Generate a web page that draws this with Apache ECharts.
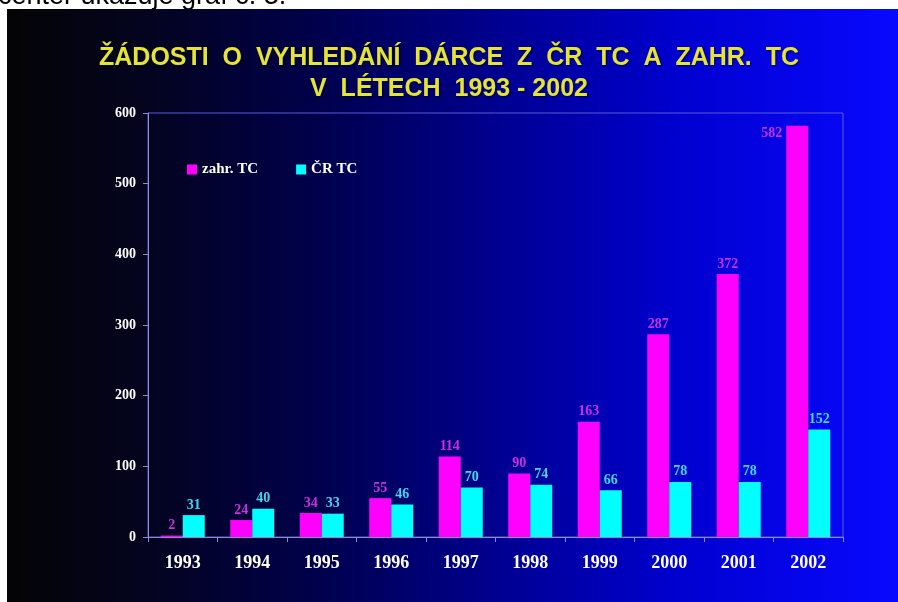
<!DOCTYPE html>
<html>
<head>
<meta charset="utf-8">
<script src="https://cdn.jsdelivr.net/npm/echarts@6/dist/echarts.min.js"></script>
<style>
html,body{margin:0;padding:0;background:#fff;}
#c{width:898px;height:602px;}
</style>
</head>
<body>
<div id="c"></div>
<script>
const years = ['1993','1994','1995','1996','1997','1998','1999','2000','2001','2002'];
const zahrTC = [2, 24, 34, 55, 114, 90, 163, 287, 372, 582];
const crTC = [31, 40, 33, 46, 70, 74, 66, 78, 78, 152];
const seriesNames = ['zahr. TC', 'ČR TC'];
const titleLines = ['ŽÁDOSTI  O  VYHLEDÁNÍ  DÁRCE  Z  ČR  TC  A  ZAHR.  TC', 'V  LÉTECH  1993 - 2002'];
const yTicks = [0, 100, 200, 300, 400, 500, 600];

const chart = echarts.init(document.getElementById('c'), null, {renderer: 'canvas'});
const serif = '"Liberation Serif", "DejaVu Serif", serif';

const magentaData = zahrTC.map(v => v > 550
  ? {value: v, label: {position: [-4, 1], align: 'right', verticalAlign: 'top'}}
  : v);

chart.setOption({
  animation: false,
  backgroundColor: '#ffffff',
  graphic: [
    {
      type: 'rect', z: -10, silent: true,
      shape: {x: 7, y: 9, width: 891, height: 593},
      style: {
        fill: new echarts.graphic.LinearGradient(0, 0, 1, 0, [
          {offset: 0, color: '#040406'},
          {offset: 0.15, color: '#04041e'},
          {offset: 0.35, color: '#00004c'},
          {offset: 0.55, color: '#000090'},
          {offset: 0.75, color: '#0000cf'},
          {offset: 1, color: '#0808ff'}
        ])
      }
    },
    {
      type: 'text', left: -2, top: -17, z: -20, silent: true,
      style: {text: 'center ukazuje graf č. 3.', fill: '#000', font: '27px "Liberation Sans", Arial, sans-serif'}
    }
  ],
  title: {
    text: titleLines.join('\n'),
    left: 'center',
    top: 38,
    textStyle: {
      color: '#e4e436',
      fontFamily: '"Liberation Sans", Arial, sans-serif',
      fontWeight: 'bold',
      fontSize: 25,
      lineHeight: 31,
      textShadowColor: 'rgba(0,0,0,0.6)',
      textShadowBlur: 2,
      textShadowOffsetX: 1,
      textShadowOffsetY: 1
    }
  },
  legend: {
    data: seriesNames,
    left: 182,
    top: 157,
    icon: 'rect',
    itemWidth: 10,
    itemHeight: 10,
    itemGap: 38,
    textStyle: {color: '#ffffff', fontFamily: serif, fontWeight: 'bold', fontSize: 15}
  },
  grid: {
    left: 148, right: 55, top: 113, bottom: 65,
    show: true, borderColor: '#5a5ad8', borderWidth: 1,
    containLabel: false
  },
  xAxis: {
    type: 'category',
    data: years,
    axisLine: {lineStyle: {color: '#8c8cc8', width: 1}},
    axisTick: {show: true, length: 5, lineStyle: {color: '#8c8cc8'}},
    axisLabel: {color: '#ffffff', fontFamily: serif, fontWeight: 'bold', fontSize: 18, margin: 17}
  },
  yAxis: {
    type: 'value',
    min: yTicks[0],
    max: yTicks[yTicks.length - 1],
    interval: 100,
    axisLine: {show: true, lineStyle: {color: '#8c8cc8', width: 1}},
    axisTick: {show: true, length: 5, lineStyle: {color: '#8c8cc8'}},
    splitLine: {show: false},
    axisLabel: {color: '#ffffff', fontFamily: serif, fontWeight: 'bold', fontSize: 14, margin: 12}
  },
  series: [
    {
      name: seriesNames[0],
      type: 'bar',
      data: magentaData,
      barWidth: 22,
      barGap: '0%',
      itemStyle: {color: '#ff00ff'},
      label: {show: true, position: 'top', distance: 3, color: '#cc30dc', fontFamily: serif, fontWeight: 'bold', fontSize: 14}
    },
    {
      name: seriesNames[1],
      type: 'bar',
      data: crTC,
      barWidth: 22,
      itemStyle: {color: '#00ffff'},
      label: {show: true, position: 'top', distance: 3, color: '#44d8ee', fontFamily: serif, fontWeight: 'bold', fontSize: 14}
    }
  ]
});
</script>
</body>
</html>
